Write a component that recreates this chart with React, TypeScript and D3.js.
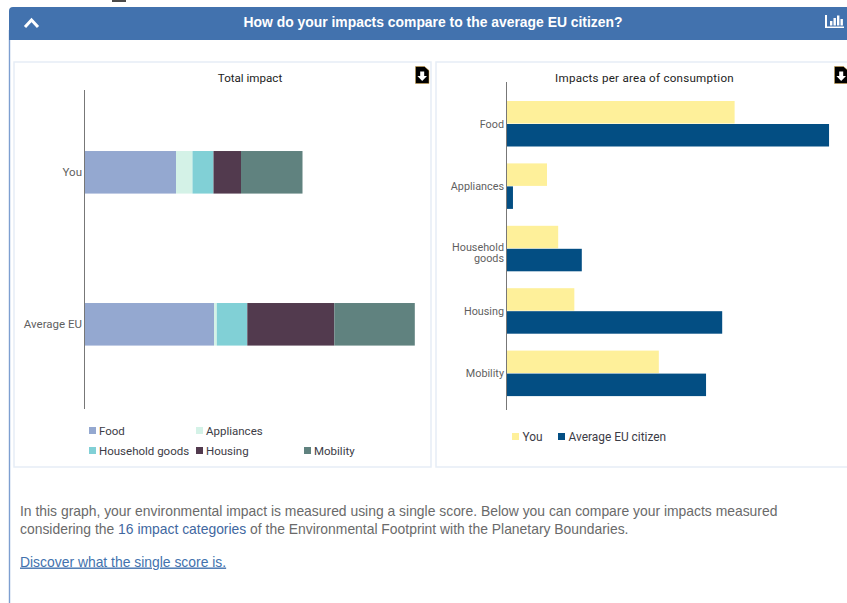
import React from "react";
import * as d3 from "d3";

const areas = ["Food", "Appliances", "Household goods", "Housing", "Mobility"];
const totalRows = ["You", "Average EU"];
const youValues = [0.92, 0.165, 0.21, 0.275, 0.615];
const averageValues = [1.3, 0.028, 0.305, 0.87, 0.805];
const areaColors = ["#94a8d0", "#d4f2e7", "#81d0d6", "#523a4e", "#60827f"];
const compareSeries = ["You", "Average EU citizen"];
const compareColors = ["#fef09a", "#034e83"];
const areaLabelLines = [["Food"], ["Appliances"], ["Household", "goods"], ["Housing"], ["Mobility"]];

const uiFont = "Roboto, sans-serif";
const bodyFont = "'Liberation Sans', Arial, sans-serif";
const labelGrey = "#5f5f5f";

const totalX = d3.scaleLinear().domain([0, 1]).range([84, 184]);
const totalY = d3.scaleBand().domain(totalRows).range([96.3, 400.3]).paddingInner(0.72).paddingOuter(0.36);
const compareX = d3.scaleLinear().domain([0, 1]).range([506, 754.5]);
const compareY = d3.scaleBand().domain(areas).range([92.8, 404.8]);
const stackGen = d3.stack<number[]>().keys(areas.map((_, i) => String(i))).value((row, key) => row[+key]);
const stacked = stackGen([youValues, averageValues]);

const DownloadIcon = ({ x, y }: { x: number; y: number }) => (
  <g transform={`translate(${x},${y})`}>
    <path d="M0.5 0.5H9.5L14 4.5V17.5H0.5Z" fill="#000" stroke="#d9a441" strokeWidth={0.5} />
    <path d="M5.2 5.5H9.2V10H12L7.2 15L2.4 10H5.2Z" fill="#fff" />
  </g>
);

const App = () => (
  <svg
    width={847}
    height={603}
    viewBox="0 0 847 603"
    style={{ position: "absolute", left: 0, top: 0, background: "#fff" }}
  >
    <rect x={112} y={0} width={14} height={2} fill="#4a4a4a" />
    {/* panel frame and header */}
    <line x1={9.5} y1={30} x2={9.5} y2={603} stroke="#7d9fd0" strokeWidth={1.4} />
    <path d="M9 40V11Q9 7 13 7H847V40Z" fill="#4272ae" />
    <path d="M25 27L31.5 20L38 27" fill="none" stroke="#fff" strokeWidth={3} />
    <text x={433} y={27} textAnchor="middle" fontFamily={bodyFont} fontWeight={700} fontSize={13.9} fill="#fff">
      How do your impacts compare to the average EU citizen?
    </text>
    <g fill="#fff">
      <path d="M825 15H827V26.4H844V28H825Z" />
      <rect x={830} y={21} width={2.4} height={4.5} />
      <rect x={833.5} y={18} width={2.4} height={7.5} />
      <rect x={837} y={15.5} width={2.4} height={10} />
      <rect x={840.5} y={19} width={2.4} height={6.5} />
    </g>

    <rect x={14} y={62} width={417} height={405} fill="none" stroke="#e6edf6" strokeWidth={1.5} />
    <rect x={436} y={62} width={420} height={405} fill="none" stroke="#e6edf6" strokeWidth={1.5} />

    {/* stacked totals */}
    <text x={250} y={82} textAnchor="middle" fontFamily={uiFont} fontSize={11.6} fill="#222">Total impact</text>
    <DownloadIcon x={415} y={66} />
    {stacked.map((series, i) =>
      series.map((d, j) => (
        <rect
          key={`${i}-${j}`}
          x={totalX(d[0])}
          y={totalY(totalRows[j])!}
          width={totalX(d[1]) - totalX(d[0])}
          height={totalY.bandwidth()}
          fill={areaColors[i]}
        />
      ))
    )}
    <line x1={84.5} y1={90} x2={84.5} y2={409} stroke="#777" strokeWidth={1} />
    {totalRows.map((r) => (
      <text
        key={r}
        x={82}
        y={totalY(r)! + totalY.bandwidth() / 2 + 4}
        textAnchor="end"
        fontFamily={uiFont}
        fontSize={11.5}
        fill={labelGrey}
      >
        {r}
      </text>
    ))}
    {areas.map((a, i) => {
      const lx = [89, 196, 89, 196, 304][i];
      const ly = [431, 431, 451, 451, 451][i];
      return (
        <g key={a}>
          <rect x={lx} y={ly - 4} width={7} height={7} fill={areaColors[i]} />
          <text x={lx + 10} y={ly + 4} fontFamily={uiFont} fontSize={11.5} fill="#3c3c46">{a}</text>
        </g>
      );
    })}

    {/* per-area comparison */}
    <text x={644.5} y={82} textAnchor="middle" fontFamily={uiFont} fontSize={11.6} fill="#222" letterSpacing={0.25}>
      Impacts per area of consumption
    </text>
    <DownloadIcon x={834} y={66} />
    {areas.map((a, i) => {
      const cy = compareY(a)! + compareY.bandwidth() / 2;
      const lines = areaLabelLines[i];
      return (
        <g key={a}>
          <rect x={compareX(0)} y={cy - 23} width={compareX(youValues[i]) - compareX(0)} height={22.5} fill={compareColors[0]} />
          <rect x={compareX(0)} y={cy} width={compareX(averageValues[i]) - compareX(0)} height={22.5} fill={compareColors[1]} />
          <text textAnchor="end" fontFamily={uiFont} fontSize={10.8} fill={labelGrey}>
            {lines.map((t, k) => (
              <tspan
                key={t}
                x={504}
                y={cy + 3.5 + (lines.length > 1 ? 4 : 0) + (k - (lines.length - 1) / 2) * 11}
              >
                {t}
              </tspan>
            ))}
          </text>
        </g>
      );
    })}
    <line x1={506.5} y1={82} x2={506.5} y2={410} stroke="#777" strokeWidth={1} />
    {compareSeries.map((s, i) => {
      const lx = [512, 558][i];
      return (
        <g key={s}>
          <rect x={lx} y={433} width={7} height={7} fill={compareColors[i]} />
          <text x={lx + 10.5} y={441} fontFamily={uiFont} fontSize={11.9} fill="#3c3c46">{s}</text>
        </g>
      );
    })}

    {/* explanatory copy */}
    <text x={20} y={516} fontFamily={bodyFont} fontSize={13.9} fill="#6a6a6a">
      In this graph, your environmental impact is measured using a single score. Below you can compare your impacts measured
    </text>
    <text x={20} y={533.5} fontFamily={bodyFont} fontSize={13.9} fill="#6a6a6a">
      considering the <tspan fill="#41679f">16 impact categories</tspan> of the Environmental Footprint with the Planetary Boundaries.
    </text>
    <text x={20} y={566.5} fontFamily={bodyFont} fontSize={13.9} fill="#4272ae" textDecoration="underline">
      Discover what the single score is.
    </text>
  </svg>
);

export default App;
